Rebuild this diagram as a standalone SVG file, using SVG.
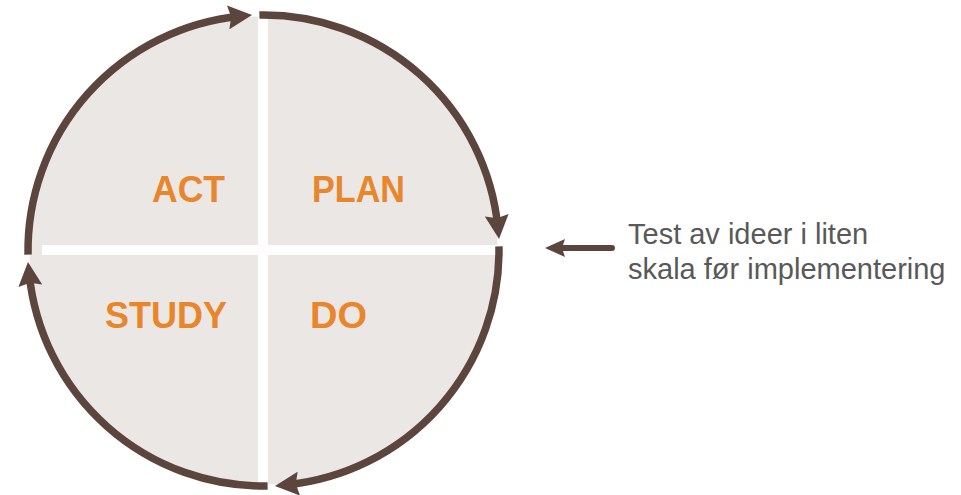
<svg xmlns="http://www.w3.org/2000/svg" width="961" height="495" viewBox="0 0 961 495">
  <style>
    .quad { font-family: "Liberation Sans", Arial, sans-serif; font-weight: bold; font-size: 37px; fill: #e9852b; }
    .note { font-family: "Liberation Sans", Arial, sans-serif; font-size: 29px; fill: #595959; }
    .cyc { fill: none; stroke: #5b453d; stroke-width: 7.5; marker-end: url(#ah); }
    .bar { fill: #ffffff; }
  </style>
  <defs>
    <marker id="ah" markerUnits="userSpaceOnUse" viewBox="0 0 24 24" markerWidth="24" markerHeight="24" refX="12" refY="12" orient="auto">
      <path d="M0,0 L24,12 L0,24 L3,12 Z" fill="#5b453d"/>
    </marker>
    <marker id="ah2" markerUnits="userSpaceOnUse" viewBox="0 0 20 20" markerWidth="20" markerHeight="20" refX="4" refY="10" orient="auto">
      <path d="M0,1 L20,10 L0,19 L3,10 Z" fill="#5b453d"/>
    </marker>
  </defs>
  <rect width="961" height="495" fill="#ffffff"/>

  <g id="cycle-background">
    <circle cx="263.5" cy="250.5" r="234" fill="#ebe7e4"/>
    <rect class="bar" x="258" y="14" width="10" height="474"/>
    <rect class="bar" x="42" y="245" width="456" height="10"/>
  </g>

  <g id="node-act">
    <text class="quad" x="225" y="202" text-anchor="end" textLength="73" lengthAdjust="spacingAndGlyphs">ACT</text>
  </g>
  <g id="node-plan">
    <text class="quad" x="312" y="202" textLength="93" lengthAdjust="spacingAndGlyphs">PLAN</text>
  </g>
  <g id="node-study">
    <text class="quad" x="227" y="328" text-anchor="end" textLength="122" lengthAdjust="spacingAndGlyphs">STUDY</text>
  </g>
  <g id="node-do">
    <text class="quad" x="310" y="328" textLength="57" lengthAdjust="spacingAndGlyphs">DO</text>
  </g>

  <g id="node-note">
    <text class="note" x="628" y="244">Test av ideer i liten</text>
    <text class="note" x="628" y="279">skala før implementering</text>
  </g>

  <g id="connectors">
    <path class="cyc" d="M28.04,254.61 A235.5,235.5 0 0 1 240.11,16.16"/>
    <path class="cyc" d="M259.39,15.04 A235.5,235.5 0 0 1 497.84,227.11"/>
    <path class="cyc" d="M498.96,246.39 A235.5,235.5 0 0 1 286.89,484.84"/>
    <path class="cyc" d="M267.61,485.96 A235.5,235.5 0 0 1 29.16,273.89"/>
    <path d="M612,248 L561,248" fill="none" stroke="#5b453d" stroke-width="6" stroke-linecap="round" marker-end="url(#ah2)"/>
  </g>
</svg>
